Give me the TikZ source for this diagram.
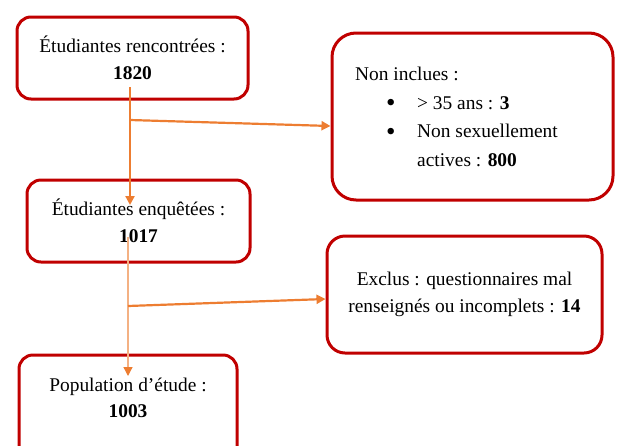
\documentclass[tikz,border=0pt]{standalone}
\usepackage{fontspec}
\setmainfont{Liberation Serif}
\usetikzlibrary{arrows.meta}
\definecolor{boxred}{HTML}{C00000}
\definecolor{flow}{HTML}{ED7D31}
\definecolor{flowlight}{HTML}{F4B183}
\newcommand{\puce}{\makebox[31pt][l]{\raisebox{-2.5pt}{\fontsize{27}{27}\selectfont\textbullet}}}
\tikzset{
	x=1pt, y=-1pt,
	box/.style={draw=boxred, line width=3pt, rounded corners=14pt, align=center,
		font=\fontsize{19.4}{26.5}\selectfont},
	boxtext/.style={font=\fontsize{19.4}{26.5}\selectfont, align=center},
	flowline/.style={draw=flow, line width=2.2pt, -{Triangle[length=9pt, width=9pt]}},
	thinflow/.style={draw=flowlight, line width=1.3pt, -{Triangle[length=9pt, width=9pt, color=flow]}},
	every node/.style={inner sep=0pt}}

\begin{document}
\begin{tikzpicture}
		\useasboundingbox (0,0) rectangle (617,445);
		\clip (0,0) rectangle (617,445);
		
		\node[box, minimum width=231pt, minimum height=82pt] (rencontrees) at (132.5,58) {\'Etudiantes rencontrées :\\ \textbf{1820}};
		\node[box, minimum width=223pt, minimum height=82pt] (enquetees) at (138.5,221) {\'Etudiantes enquêtées :\\ \textbf{1017}};
		\node[box, minimum width=218pt, minimum height=110pt] (population) at (128,410) {};
		\node[boxtext] (poptxt) at (128,398) {Population d’étude :\\ \textbf{1003}};
		\node[box, rounded corners=24pt, minimum width=281pt, minimum height=167pt] (noninclues) at (472.5,116.5) {};
		\node[boxtext, align=left, anchor=west, font=\fontsize{19.4}{28.5}\selectfont] (nontxt) at (355,117)
			{Non inclues :\\
			\hspace*{31pt}\puce> 35 ans : \textbf{3}\\
			\hspace*{31pt}\puce Non sexuellement\\
			\hspace*{62pt}actives : \textbf{800}};
		\node[box, rounded corners=18pt, minimum width=275pt, minimum height=117pt] (exclus) at (464.5,294.5)
			{Exclus : questionnaires mal\\ renseignés ou incomplets : \textbf{14}};
		
		% flux principal
		\coordinate (d1) at (130,87);
		\coordinate (f1) at (130,205);
		\coordinate (b1) at (130,120);
		\coordinate (d2) at (128,237);
		\coordinate (f2) at (128,376);
		\coordinate (b2) at (128,306);
		\draw[flowline] (d1) -- (f1);
		\draw[flowline] (b1) -- (noninclues.west |- 0,126);
		\draw[thinflow] (d2) -- (f2);
		\draw[flowline] (b2) -- (exclus.west |- 0,299);
\end{tikzpicture}
\end{document}
